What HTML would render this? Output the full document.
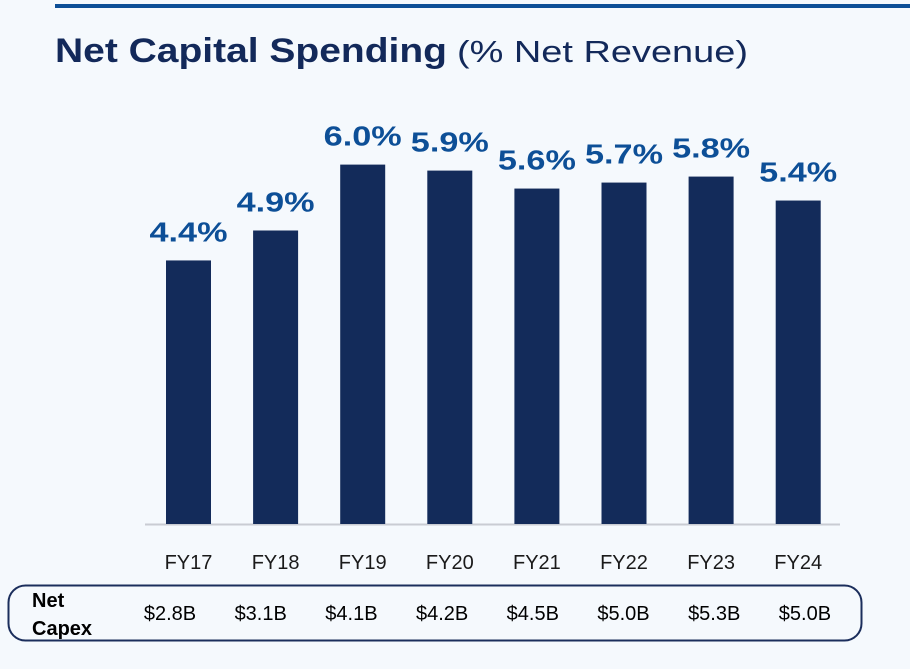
<!DOCTYPE html>
<html><head><meta charset="utf-8"><style>
html,body{margin:0;padding:0;background:#f5f9fd;}
svg{display:block;font-family:"Liberation Sans",sans-serif;}
</style></head><body>
<svg width="910" height="669" viewBox="0 0 910 669">
<rect x="0" y="0" width="910" height="669" fill="#f5f9fd"/>
<rect x="55" y="4" width="855" height="4" fill="#0d4f97"/>
<text x="55" y="62" font-size="34" font-weight="bold" fill="#13295a" textLength="392" lengthAdjust="spacingAndGlyphs">Net Capital Spending</text>
<text x="457" y="62" font-size="31" fill="#13295a" textLength="291" lengthAdjust="spacingAndGlyphs">(% Net Revenue)</text>
<line x1="145" y1="524.5" x2="840" y2="524.5" stroke="#c9ccd3" stroke-width="2"/>
<g id="bars"></g>
<rect x="8.5" y="585.5" width="853" height="55" rx="17" fill="none" stroke="#1b2e5c" stroke-width="2"/>
<text x="32" y="607" font-size="20" font-weight="bold" fill="#000">Net</text>
<text x="32" y="635" font-size="20" font-weight="bold" fill="#000">Capex</text>
<g id="capex"></g>
</svg>
<script>
const categories=["FY17","FY18","FY19","FY20","FY21","FY22","FY23","FY24"];
const pctValues=[4.4,4.9,6.0,5.9,5.6,5.7,5.8,5.4];
const pctLabels=["4.4%","4.9%","6.0%","5.9%","5.6%","5.7%","5.8%","5.4%"];
const capexLabels=["$2.8B","$3.1B","$4.1B","$4.2B","$4.5B","$5.0B","$5.3B","$5.0B"];
const NS="http://www.w3.org/2000/svg";
const baseY=524, pxPer=59.9, x0=166, step=87.1, bw=45;
const xPos=i=>x0+i*step;
const yPos=v=>baseY-v*pxPer;
const capX=i=>170+i*90.7;
const g=document.getElementById('bars'), cg=document.getElementById('capex');
function mk(tag,attrs,parent,txt){const e=document.createElementNS(NS,tag);for(const k in attrs)e.setAttribute(k,attrs[k]);if(txt!==undefined)e.textContent=txt;parent.appendChild(e);return e;}
categories.forEach((c,i)=>{
  const x=xPos(i), y=yPos(pctValues[i]);
  const r=mk('rect',{x:x,y:y,width:bw,height:baseY-y,fill:'#132b5a'},g);
  
  
  const t=mk('text',{x:x+bw/2,y:y-19,'text-anchor':'middle','font-size':'28','font-weight':'bold',fill:'#0d4f97',textLength:'78',lengthAdjust:'spacingAndGlyphs'},g,pctLabels[i]);
  
  
  const l=mk('text',{x:x+bw/2,y:569,'text-anchor':'middle','font-size':'20',fill:'#1a1a1a'},g,c);
  
  
  const cl=mk('text',{x:capX(i),y:620,'text-anchor':'middle','font-size':'20',fill:'#000'},cg,capexLabels[i]);
  
  
});
</script>
</body></html>
